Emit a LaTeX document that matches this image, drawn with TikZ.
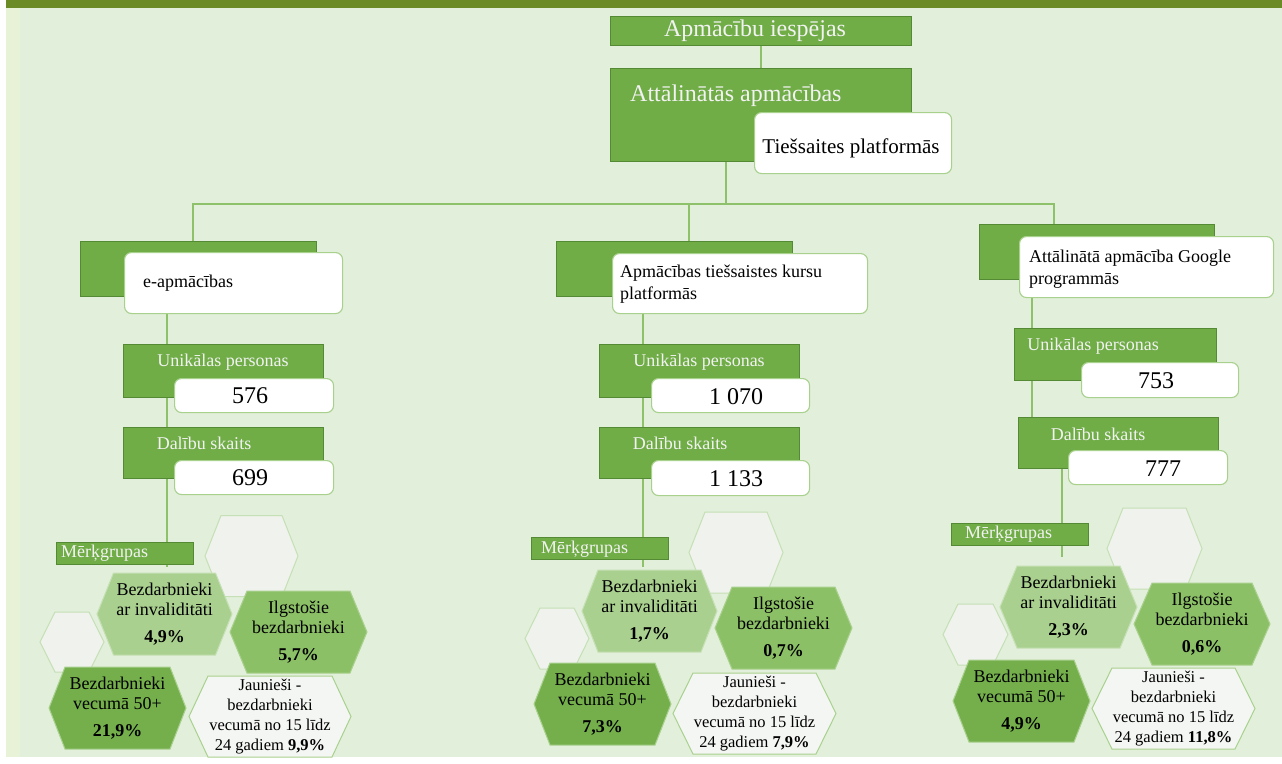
\documentclass[tikz,border=0pt]{standalone}
\usepackage{fontspec}
\setmainfont{Liberation Serif}
\pgfdeclarelayer{bg}\pgfdeclarelayer{edges}
\pgfsetlayers{bg,edges,main}
\definecolor{bgc}{HTML}{E2EFDA}
\definecolor{band}{HTML}{6A8B25}
\definecolor{strip}{HTML}{E8F2D6}
\definecolor{gmain}{HTML}{70AD47}
\definecolor{gdark}{HTML}{558A35}
\definecolor{gline}{HTML}{8DC26A}
\definecolor{wline}{HTML}{A9D18E}
\definecolor{hlight}{HTML}{A9D08E}
\definecolor{hmid}{HTML}{8CC066}
\definecolor{hfif}{HTML}{74AF4B}
\definecolor{hpale}{HTML}{F0F2EE}
\definecolor{hedge}{HTML}{C5E0B4}
\newcommand\myhex[6]{\path[#1] ({#2-#4},#3) -- ({#2-#4+#6},{#3-#5}) -- ({#2+#4-#6},{#3-#5}) -- ({#2+#4},#3) -- ({#2+#4-#6},{#3+#5}) -- ({#2-#4+#6},{#3+#5}) -- cycle;}
\tikzset{
  gbox/.style={draw=gdark, fill=gmain, line width=0.9, inner sep=0, anchor=north west},
  wbox/.style={draw=wline, fill=white, line width=1.1, rounded corners=7, inner sep=0, anchor=north west},
  conn/.style={draw=gline, line width=1.3},
  wtxt/.style={text=white!95!black, inner sep=0, font=\fontsize{18}{21}\selectfont},
  btxt/.style={text=black, inner sep=0, font=\fontsize{18}{22}\selectfont},
  numtxt/.style={text=black, inner sep=0, font=\fontsize{24}{28}\selectfont},
  htxt/.style={text=black, inner sep=0, align=center, font=\fontsize{18}{20}\selectfont},
  jtxt/.style={text=black, inner sep=0, align=center, font=\fontsize{16.5}{20}\selectfont},
  hexE/.style={fill=hpale, draw=hedge, line width=1},
  hexI/.style={fill=hlight, draw=hedge, line width=1},
  hexG/.style={fill=hmid, draw=wline, line width=1},
  hexF/.style={fill=hfif, draw=hlight, line width=1},
  hexJ/.style={fill=hpale!70!white, draw=wline, line width=1},
  mgbox/.style={draw=gdark, fill=gmain, line width=0.9, inner sep=0, anchor=north west, minimum width=137, minimum height=22},
}
\begin{document}
\begin{tikzpicture}[x=1pt,y=-1pt]
\useasboundingbox (0,0) rectangle (1282,763);
\begin{pgfonlayer}{bg}
  \fill[white] (0,0) rectangle (1282,763);
  \fill[bgc] (6,0) rectangle (1282,757);
  \fill[strip] (6,0) rectangle (20,757);
  \fill[band] (6,0) rectangle (1282,8);
\end{pgfonlayer}

% top
\node[gbox, minimum width=301, minimum height=29] (root) at (610,16) {};
\node[wtxt, font=\fontsize{24}{28}\selectfont] (roott) at (755,31) {Apmācību iespējas};
\node[gbox, minimum width=301, minimum height=93] (att) at (610,68) {};
\node[wtxt, font=\fontsize{24}{28}\selectfont, anchor=west] (attt) at (630,96) {Attālinātās apmācības};
\node[wbox, minimum width=197, minimum height=61] (ties) at (754,112) {};
\node[btxt, font=\fontsize{21}{24}\selectfont] (tiest) at (851,148) {Tiešsaites platformās};

\coordinate (hub) at (726,204);
\coordinate (bL) at (193,204);
\coordinate (bM) at (689,204);
\coordinate (bR) at (1054,204);

% column 1
\node[gbox, minimum width=236, minimum height=55] (g1) at (80,241) {};
\node[wbox, minimum width=218, minimum height=61] (w1) at (124,252) {};
\node[btxt, anchor=west] (w1t) at (143,283) {e-apmācības};
\node[gbox, minimum width=200, minimum height=53] (u1) at (123,344) {};
\node[wtxt] (u1t) at (223,362) {Unikālas personas};
\node[wbox, minimum width=159, minimum height=34] (un1) at (174,378) {};
\node[numtxt] (un1t) at (250,396) {576};
\node[gbox, minimum width=200, minimum height=51] (d1) at (123,427) {};
\node[wtxt] (d1t) at (204,443) {Dalību skaits};
\node[wbox, minimum width=159, minimum height=34] (dn1) at (174,460) {};
\node[numtxt] (dn1t) at (250,478) {699};
\node[mgbox] (m1) at (56,542) {};
\node[wtxt, anchor=west] (m1t) at (61,553) {Mērķgrupas};
\coordinate (v1) at (167,567);

% column 2
\node[gbox, minimum width=236, minimum height=55] (g2) at (556,241) {};
\node[wbox, minimum width=255, minimum height=60] (w2) at (612,253) {};
\node[btxt, anchor=west, align=left] (w2t) at (620,284) {Apmācības tiešsaistes kursu\\platformās};
\node[gbox, minimum width=200, minimum height=53] (u2) at (599,344) {};
\node[wtxt] (u2t) at (699,362) {Unikālas personas};
\node[wbox, minimum width=158, minimum height=34] (un2) at (651,378) {};
\node[numtxt] (un2t) at (736,397) {1 070};
\node[gbox, minimum width=200, minimum height=51] (d2) at (599,427) {};
\node[wtxt] (d2t) at (680,443) {Dalību skaits};
\node[wbox, minimum width=158, minimum height=35] (dn2) at (651,460) {};
\node[numtxt] (dn2t) at (736,479) {1 133};
\node[mgbox] (m2) at (531,537) {};
\node[wtxt, anchor=west] (m2t) at (541,549) {Mērķgrupas};
\coordinate (v2) at (643,567);

% column 3
\node[gbox, minimum width=235, minimum height=55] (g3) at (979,224) {};
\node[wbox, minimum width=254, minimum height=61] (w3) at (1019,236) {};
\node[btxt, anchor=west, align=left] (w3t) at (1029,269) {Attālinātā apmācība Google\\programmās};
\node[gbox, minimum width=202, minimum height=52] (u3) at (1014,328) {};
\node[wtxt] (u3t) at (1093,346) {Unikālas personas};
\node[wbox, minimum width=157, minimum height=35] (un3) at (1081,362) {};
\node[numtxt] (un3t) at (1156,381) {753};
\node[gbox, minimum width=200, minimum height=51] (d3) at (1018,417) {};
\node[wtxt] (d3t) at (1098,434) {Dalību skaits};
\node[wbox, minimum width=159, minimum height=34] (dn3) at (1068,450) {};
\node[numtxt] (dn3t) at (1163,469) {777};
\node[mgbox] (m3) at (951,523) {};
\node[wtxt, anchor=west] (m3t) at (965,534) {Mērķgrupas};
\coordinate (v3a) at (1032,417);
\coordinate (v3b) at (1062,557);

% connectors
\begin{pgfonlayer}{edges}
  \draw[conn] (root.south) -- (root.south |- att.north);
  \draw[conn] (att.south -| hub) -- (hub);
  \draw[conn] (g1.north -| bL) -- (bL) -- (bR) -- (g3.north -| bR);
  \draw[conn] (bM) -- (g2.north -| bM);
  \draw[conn] (w1.south -| v1) -- (v1);
  \draw[conn] (w2.south -| v2) -- (v2);
  \draw[conn] (w3.south -| v3a) -- (d3.north -| v3a);
  \draw[conn] (d3.south -| v3b) -- (v3b);
\end{pgfonlayer}

% hexagons column 1
\myhex{hexE}{251.5}{556}{46.5}{40.5}{16}
\myhex{hexE}{72}{642}{32}{30}{15}
\myhex{hexI}{164.5}{614}{67.5}{41}{16.5}
\myhex{hexG}{298.5}{632}{68.5}{41}{17}
\myhex{hexF}{117.5}{708}{68.5}{41}{16}
\myhex{hexJ}{270}{716.5}{81}{40.5}{19}
\node[htxt] (i1) at (164.5,614) {Bezdarbnieki\\ar invaliditāti\\[7pt]\textbf{4,9\%}};
\node[htxt] (l1) at (298.5,632) {Ilgstošie\\bezdarbnieki\\[7pt]\textbf{5,7\%}};
\node[htxt] (f1) at (117.5,708) {Bezdarbnieki\\vecumā 50+\\[7pt]\textbf{21,9\%}};
\node[jtxt] (j1) at (270,717) {Jaunieši -\\bezdarbnieki\\vecumā no 15 līdz\\24 gadiem \textbf{9,9\%}};

% hexagons column 2
\myhex{hexE}{736}{552.5}{47}{40.5}{16}
\myhex{hexE}{557}{638.5}{32}{30.5}{15}
\myhex{hexI}{649.5}{611}{67.5}{41}{16}
\myhex{hexG}{783.5}{628}{68.5}{41}{17}
\myhex{hexF}{602.5}{704}{68.5}{41}{16}
\myhex{hexJ}{754.5}{713.5}{81.5}{40.5}{20}
\node[htxt] (i2) at (649.5,611) {Bezdarbnieki\\ar invaliditāti\\[7pt]\textbf{1,7\%}};
\node[htxt] (l2) at (783.5,628) {Ilgstošie\\bezdarbnieki\\[7pt]\textbf{0,7\%}};
\node[htxt] (f2) at (602.5,704) {Bezdarbnieki\\vecumā 50+\\[7pt]\textbf{7,3\%}};
\node[jtxt] (j2) at (754.5,714) {Jaunieši -\\bezdarbnieki\\vecumā no 15 līdz\\24 gadiem \textbf{7,9\%}};

% hexagons column 3
\myhex{hexE}{1154.5}{548.5}{47.5}{40.5}{16}
\myhex{hexE}{975.5}{634.5}{32.5}{30.5}{15}
\myhex{hexI}{1068.5}{607}{68.5}{41}{17}
\myhex{hexG}{1202}{624}{68}{41}{18}
\myhex{hexF}{1021.5}{701}{68.5}{41}{16}
\myhex{hexJ}{1173.5}{708.5}{81.5}{40.5}{20}
\node[htxt] (i3) at (1068.5,607) {Bezdarbnieki\\ar invaliditāti\\[7pt]\textbf{2,3\%}};
\node[htxt] (l3) at (1202,624) {Ilgstošie\\bezdarbnieki\\[7pt]\textbf{0,6\%}};
\node[htxt] (f3) at (1021.5,701) {Bezdarbnieki\\vecumā 50+\\[7pt]\textbf{4,9\%}};
\node[jtxt] (j3) at (1173.5,709) {Jaunieši -\\bezdarbnieki\\vecumā no 15 līdz\\24 gadiem \textbf{11,8\%}};
\end{tikzpicture}
\end{document}
